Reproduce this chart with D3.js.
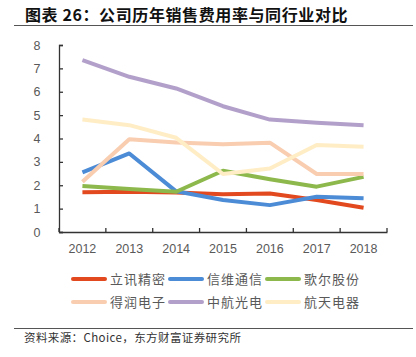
<!DOCTYPE html>
<html><head><meta charset="utf-8">
<script src="https://cdn.jsdelivr.net/npm/d3@7"></script>
<style>html,body{margin:0;padding:0;background:#fff;}svg{display:block;}</style>
</head><body>
<svg id="c" width="416" height="357"></svg>
<script>
const title = "图表 26：公司历年销售费用率与同行业对比";
const source = "资料来源：Choice，东方财富证券研究所";
const years = ["2012","2013","2014","2015","2016","2017","2018"];
const yTicks = [0,1,2,3,4,5,6,7,8];
const names = ["立讯精密","信维通信","歌尔股份","得润电子","中航光电","航天电器"];
const colors = ["#E2491E","#4C8BD6","#8DB84C","#F9CDAF","#B3A0CA","#FFEDC6"];
const luxshare = [1.70,1.72,1.69,1.62,1.65,1.37,1.04];
const sunway   = [2.55,3.36,1.74,1.37,1.15,1.51,1.44];
const goertek  = [1.97,1.84,1.72,2.62,2.26,1.94,2.36];
const deren    = [2.15,3.97,3.83,3.75,3.82,2.48,2.48];
const avic     = [7.35,6.64,6.14,5.38,4.81,4.67,4.57];
const aerospace= [4.81,4.57,4.03,2.48,2.72,3.72,3.65];
const series = [luxshare,sunway,goertek,deren,avic,aerospace];

const svg = d3.select("#c");
const cjk = "'Noto Sans CJK SC','Noto Sans',sans-serif";

svg.append("text").attr("x",25).attr("y",21).attr("font-family",cjk)
  .attr("font-weight","bold").attr("font-size",16).attr("letter-spacing",0.6)
  .attr("fill","#111").text(title);
svg.append("line").attr("x1",14).attr("x2",413).attr("y1",25.5).attr("y2",25.5)
  .attr("stroke","#555").attr("stroke-width",1);

const x = d3.scaleBand().domain(years).range([59,387]);
const y = d3.scaleLinear().domain([0,8]).range([232,45]);

// lines
const line = d3.line().x((d,i)=>x(years[i])+x.bandwidth()/2).y(d=>y(d));
series.forEach((s,i)=>{
  svg.append("path").datum(s).attr("d",line).attr("fill","none")
    .attr("stroke",colors[i]).attr("stroke-width",4).attr("stroke-linejoin","round");
});

// axes
const axisColor = "#333";
const xa = svg.append("g").attr("transform","translate(0,232)")
  .call(d3.axisBottom(x).tickSize(0).tickPadding(0).tickFormat(""));
xa.select(".domain").attr("stroke",axisColor).attr("stroke-width",1.3);
const edges = years.map(v=>x(v)).concat([387]);
svg.append("g").selectAll("line").data(edges).join("line")
  .attr("x1",d=>d).attr("x2",d=>d).attr("y1",232).attr("y2",228)
  .attr("stroke",axisColor).attr("stroke-width",1.3);
svg.append("g").selectAll("text").data(years).join("text")
  .attr("x",d=>x(d)+x.bandwidth()/2).attr("y",253).attr("text-anchor","middle")
  .attr("font-family","'Liberation Sans',Arial,sans-serif").attr("font-size",12.5)
  .attr("fill","#595959").text(d=>d);

const ya = svg.append("g").attr("transform","translate(59,0)")
  .call(d3.axisLeft(y).tickValues(yTicks).tickSize(-4).tickPadding(18).tickFormat(d3.format("d")));
ya.select(".domain").attr("stroke",axisColor).attr("stroke-width",1.3);
ya.selectAll(".tick line").attr("stroke",axisColor).attr("stroke-width",1.3);
ya.selectAll(".tick text").attr("font-family","'Liberation Sans',Arial,sans-serif")
  .attr("font-size",12.5).attr("fill","#595959").attr("text-anchor","middle").attr("x",-22);

// legend
const lg = svg.append("g");
names.forEach((n,i)=>{
  const col = i%3, row = Math.floor(i/3);
  const lx = 73 + col*97, ly = 279 + row*23;
  lg.append("line").attr("x1",lx).attr("x2",lx+32).attr("y1",ly).attr("y2",ly)
    .attr("stroke",colors[i]).attr("stroke-width",4).attr("stroke-linecap","round");
  lg.append("text").attr("x",lx+37).attr("y",ly+5).attr("font-family",cjk)
    .attr("font-size",13).attr("letter-spacing",1).attr("fill","#595959").text(n);
});

svg.append("line").attr("x1",14).attr("x2",413).attr("y1",328.5).attr("y2",328.5)
  .attr("stroke","#555").attr("stroke-width",1);
svg.append("text").attr("x",24).attr("y",342).attr("font-family",cjk)
  .attr("font-size",11.5).attr("letter-spacing",0.4).attr("fill","#333").text(source);
</script>
</body></html>
